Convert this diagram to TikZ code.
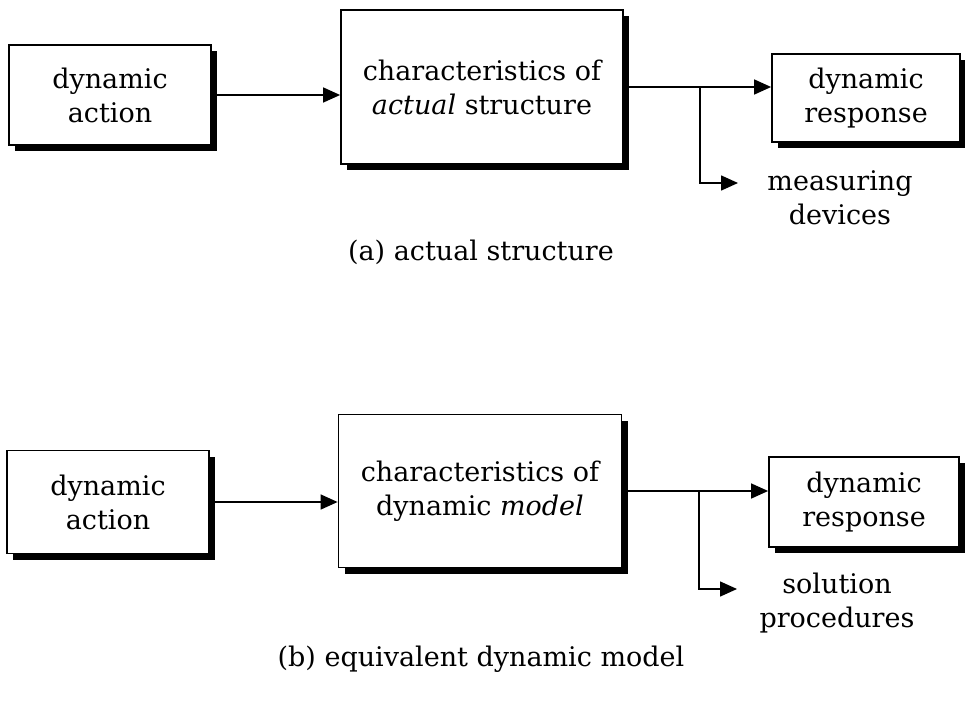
\documentclass[tikz,border=0pt]{standalone}
\usepackage{fontspec}
\setmainfont{DejaVu Serif}
\usepackage{tikz}
\usetikzlibrary{arrows.meta,shadows,positioning,calc}

\begin{document}
\begin{tikzpicture}[x=1pt,y=-1pt,
  blockbox/.style={rectangle,draw,line width=1.8pt,fill=white,align=center,
    drop shadow={shadow xshift=6pt,shadow yshift=-6pt,fill=black,opacity=1}},
  edge/.style={line width=1.5pt,->,>={Triangle[length=17pt,width=15pt]}},
  blank/.style={align=center,inner sep=0pt},
  every node/.style={font=\fontsize{27}{34}\selectfont}]
\useasboundingbox (0,0) rectangle (965,703);

% (a) actual structure
\node(act1)[blockbox,minimum width=202,minimum height=100] at (110,95) {dynamic\\action};
\node(char1)[blockbox,minimum width=282,minimum height=154] at (482,87) {characteristics of\\\textit{actual} structure};
\node(resp1)[blockbox,minimum width=188,minimum height=88] at (866,98) {dynamic\\response};
\node(meas1)[blank] at (840,198) {measuring\\devices};
\coordinate(split1) at (700,87);
\coordinate(tip1) at (738,183);
\node(capa)[blank,anchor=base] at (481,260) {(a) actual structure};

\draw [edge] (act1.east) -- (act1.east -| char1.west);
\draw [edge] (char1.east) -- (char1.east -| resp1.west);
\draw [edge] (split1) |- (tip1);

% (b) equivalent dynamic model
\node(act2)[blockbox,minimum width=202,minimum height=103] at (108,502) {dynamic\\action};
\node(char2)[blockbox,minimum width=283,minimum height=153] at (480,491) {characteristics of\\dynamic \textit{model}};
\node(resp2)[blockbox,minimum width=190,minimum height=90] at (864,502) {dynamic\\response};
\node(solv2)[blank] at (837,603) {solution\\procedures};
\coordinate(split2) at (699,492);
\coordinate(tip2) at (737,589);
\node(capb)[blank,anchor=base] at (481,666) {(b) equivalent dynamic model};

\draw [edge] (act2.east) -- (act2.east -| char2.west);
\draw [edge] (char2.east) -- (char2.east -| resp2.west);
\draw [edge] (split2) |- (tip2);
\end{tikzpicture}
\end{document}
